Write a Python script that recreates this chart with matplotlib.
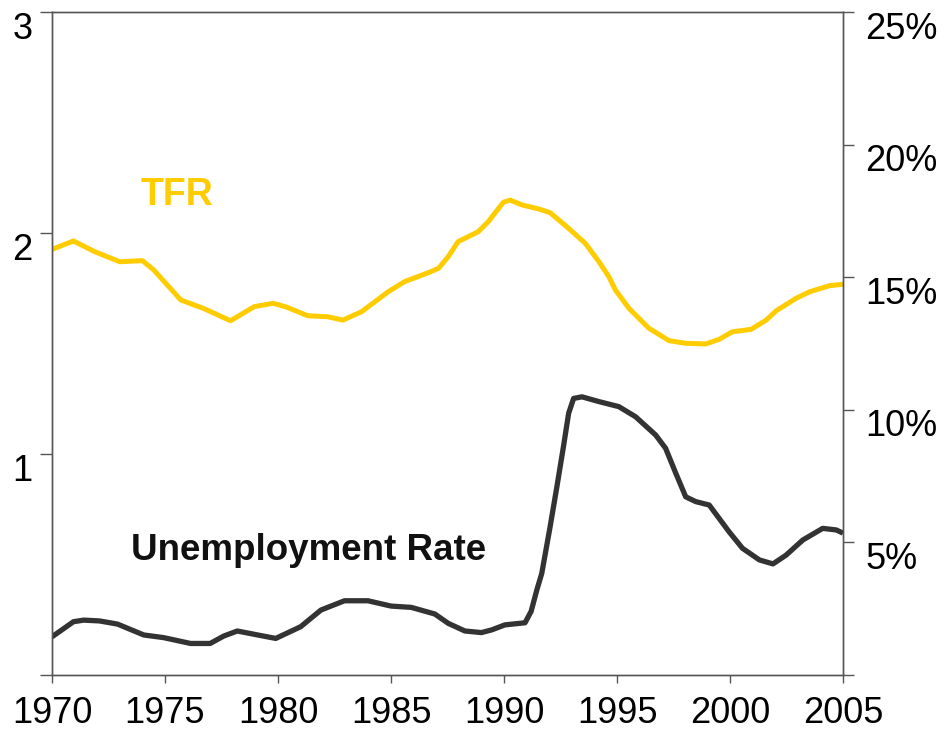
import matplotlib.pyplot as plt
import matplotlib.transforms as mtransforms
from matplotlib.ticker import FuncFormatter

plt.rcParams['font.family'] = ['Liberation Sans', 'DejaVu Sans']

# TFR (left axis)
tfr_years = [1970.0, 1970.95, 1971.9, 1973.0, 1974.0, 1974.5, 1975.7, 1976.7, 1977.15, 1977.9,
             1978.95, 1979.8, 1980.4, 1981.3, 1982.2, 1982.87, 1983.7, 1984.87, 1985.6, 1986.64,
             1987.1, 1987.53, 1987.97, 1988.86, 1989.3, 1989.97, 1990.27, 1990.8, 1991.53, 1992.04,
             1992.86, 1993.6, 1994.2, 1994.64, 1994.93, 1995.53, 1996.41, 1997.3, 1998.04, 1998.93,
             1999.52, 2000.1, 2000.93, 2001.6, 2002.04, 2002.93, 2003.52, 2004.41, 2005.0]
tfr_values = [1.926, 1.964, 1.915, 1.870, 1.875, 1.833, 1.697, 1.659, 1.638, 1.603,
              1.667, 1.682, 1.664, 1.626, 1.621, 1.606, 1.644, 1.734, 1.780, 1.820,
              1.840, 1.893, 1.961, 2.006, 2.051, 2.139, 2.149, 2.127, 2.109, 2.092,
              2.021, 1.953, 1.870, 1.802, 1.742, 1.659, 1.569, 1.513, 1.501, 1.498,
              1.519, 1.553, 1.564, 1.606, 1.648, 1.705, 1.734, 1.762, 1.768]

# Unemployment rate in % (right axis)
unemp_years = [1970.0, 1970.95, 1971.4, 1972.1, 1972.9, 1974.06, 1974.94, 1976.13, 1977.0, 1977.6,
               1978.2, 1979.1, 1979.9, 1981.0, 1981.9, 1982.94, 1983.98, 1985.0, 1985.9, 1986.94,
               1987.53, 1988.27, 1989.0, 1989.45, 1990.04, 1990.93, 1991.2, 1991.45, 1991.67, 1992.04,
               1992.34, 1992.63, 1992.86, 1993.08, 1993.45, 1994.2, 1995.08, 1995.82, 1996.71, 1997.15,
               1997.6, 1998.04, 1998.48, 1999.08, 1999.96, 2000.55, 2001.3, 2001.9, 2002.48, 2003.22,
               2004.1, 2004.7, 2005.0]
unemp_values = [1.44, 2.01, 2.07, 2.04, 1.92, 1.51, 1.41, 1.19, 1.19, 1.47,
                1.66, 1.51, 1.38, 1.82, 2.45, 2.80, 2.80, 2.60, 2.55, 2.30,
                1.95, 1.66, 1.60, 1.70, 1.89, 1.97, 2.40, 3.20, 3.83, 5.59,
                7.10, 8.61, 9.87, 10.43, 10.49, 10.31, 10.12, 9.74, 9.05, 8.55,
                7.61, 6.72, 6.54, 6.41, 5.40, 4.78, 4.34, 4.19, 4.52, 5.09,
                5.53, 5.47, 5.35]

year_ticks = [1970, 1975, 1980, 1985, 1990, 1995, 2000, 2005]
left_ticks = [0, 1, 2, 3]
right_ticks = [0, 5, 10, 15, 20, 25]

fig = plt.figure(figsize=(9.47, 7.33), dpi=100)
ax = fig.add_axes([0.0549, 0.0791, 0.8353, 0.9045])
ax2 = ax.twinx()

ax.plot(tfr_years, tfr_values, color='#FFCC00', lw=3.6, solid_capstyle='butt')
ax2.plot(unemp_years, unemp_values, color='#333333', lw=3.8, solid_capstyle='butt')

ax.set_xlim(1970, 2005)
ax.set_ylim(0, 3)
ax2.set_ylim(0, 25)

ax.set_xticks(year_ticks)
ax.set_yticks(left_ticks)
ax.set_yticklabels(['' if t == 0 else str(t) for t in left_ticks])
ax2.set_yticks(right_ticks)
ax2.yaxis.set_major_formatter(FuncFormatter(lambda v, p: '' if v == 0 else '%d%%' % v))

for a in (ax, ax2):
    for s in a.spines.values():
        s.set_color('#555555')
        s.set_linewidth(1.0)
ax.tick_params(axis='x', direction='out', length=6, width=1, color='#555555',
               labelsize=26, pad=9)
ax.tick_params(axis='y', direction='out', length=9, width=1, color='#555555',
               labelsize=26, pad=5)
ax2.tick_params(axis='y', direction='out', length=8, width=1, color='#555555',
                labelsize=26, pad=8)

# y labels in the original sit a bit below their ticks
shift = mtransforms.ScaledTranslation(0, -0.13, fig.dpi_scale_trans)
for lbl in ax.get_yticklabels() + ax2.get_yticklabels():
    lbl.set_transform(lbl.get_transform() + shift)

ax.text(1973.9, 2.17, 'TFR', color='#FFCC00', fontsize=27, fontweight='bold',
        ha='left', va='center')
ax2.text(1973.5, 4.7, 'Unemployment Rate', color='#111111', fontsize=26.5,
         fontweight='bold', ha='left', va='center')

fig.savefig('out.png', dpi=100)
